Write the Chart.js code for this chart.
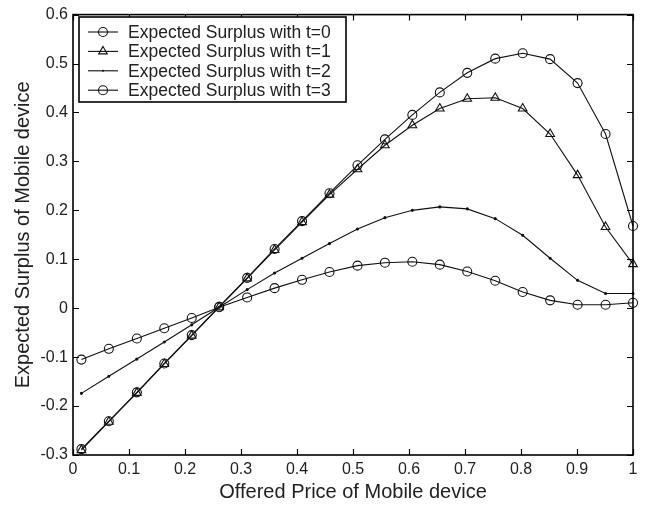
<!DOCTYPE html>
<html>
<head>
<meta charset="utf-8">
<script src="https://cdn.jsdelivr.net/npm/chart.js@4/dist/chart.umd.min.js"></script>
<style>
  html, body { margin: 0; padding: 0; background: #fff; }
  #wrap { width: 648px; height: 507px; }
</style>
</head>
<body>
<div id="wrap"><canvas id="surplus" width="648" height="507"></canvas></div>
<script>
// offered price (x) for each sample
var prices = [0.015, 0.064, 0.114, 0.163, 0.212, 0.261, 0.311, 0.360, 0.409, 0.458, 0.508,
  0.557, 0.606, 0.655, 0.704, 0.754, 0.803, 0.852, 0.901, 0.951, 1.0];

// expected surplus for each t
var surplusT0 = [-0.288, -0.231, -0.172, -0.113, -0.055, 0.003, 0.062, 0.121, 0.178, 0.235, 0.292,
  0.345, 0.395, 0.441, 0.481, 0.510, 0.521, 0.509, 0.460, 0.356, 0.168];
var surplusT1 = [-0.290, -0.232, -0.173, -0.114, -0.056, 0.002, 0.061, 0.119, 0.176, 0.232, 0.284,
  0.333, 0.374, 0.408, 0.428, 0.430, 0.408, 0.356, 0.272, 0.166, 0.090];
var surplusT2 = [-0.174, -0.139, -0.104, -0.069, -0.034, 0.002, 0.038, 0.072, 0.102, 0.132, 0.162,
  0.185, 0.200, 0.207, 0.203, 0.183, 0.149, 0.102, 0.057, 0.030, 0.030];
var surplusT3 = [-0.105, -0.083, -0.062, -0.041, -0.020, 0.002, 0.022, 0.041, 0.058, 0.074, 0.087,
  0.093, 0.095, 0.089, 0.075, 0.056, 0.033, 0.016, 0.007, 0.007, 0.011];

var seriesLabels = [
  "Expected Surplus with t=0",
  "Expected Surplus with t=1",
  "Expected Surplus with t=2",
  "Expected Surplus with t=3"
];

var xTicks = [0, 0.1, 0.2, 0.3, 0.4, 0.5, 0.6, 0.7, 0.8, 0.9, 1];
var yTicks = [-0.3, -0.2, -0.1, 0, 0.1, 0.2, 0.3, 0.4, 0.5, 0.6];

var fontName = "'Liberation Sans', Arial, sans-serif";

function toPoints(ys) {
  var pts = [];
  for (var i = 0; i < prices.length; i++) {
    pts.push({ x: prices[i], y: ys[i] });
  }
  return pts;
}

function fmt(v) {
  return String(Math.round(v * 10) / 10);
}

var seriesStyle = [
  { data: surplusT0, pointStyle: "circle", radius: 4.5 },
  { data: surplusT1, pointStyle: "triangle", radius: 5 },
  { data: surplusT2, pointStyle: "circle", radius: 1 },
  { data: surplusT3, pointStyle: "circle", radius: 4.5 }
];

var datasets = seriesStyle.map(function(s, i) {
  return {
    label: seriesLabels[i],
    data: toPoints(s.data),
    borderColor: "#111",
    borderWidth: 1.1,
    backgroundColor: "rgba(0,0,0,0)",
    pointStyle: s.pointStyle,
    pointRadius: s.radius,
    pointBorderWidth: 1.1,
    pointBorderColor: "#111",
    pointBackgroundColor: i == 2 ? "#111" : "rgba(0,0,0,0)",
    tension: 0,
    clip: false
  };
});

// box round the plot with inward ticks on all four sides
var boxPlugin = {
  id: "box",
  afterDatasetsDraw: function(chart) {
    var ctx = chart.ctx;
    var a = chart.chartArea;
    var xs = chart.scales.x, ys = chart.scales.y;
    ctx.save();
    ctx.strokeStyle = "#000";
    ctx.lineWidth = 1.2;
    ctx.beginPath();
    xTicks.forEach(function(v) {
      var px = Math.round(xs.getPixelForValue(v)) + 0.5;
      ctx.moveTo(px, a.bottom); ctx.lineTo(px, a.bottom - 6);
      ctx.moveTo(px, a.top); ctx.lineTo(px, a.top + 6);
    });
    yTicks.forEach(function(v) {
      var py = Math.round(ys.getPixelForValue(v)) + 0.5;
      ctx.moveTo(a.left, py); ctx.lineTo(a.left + 6, py);
      ctx.moveTo(a.right, py); ctx.lineTo(a.right - 6, py);
    });
    ctx.stroke();
    ctx.lineWidth = 1.6;
    ctx.strokeRect(a.left, a.top, a.right - a.left, a.bottom - a.top);
    ctx.restore();
  }
};

// legend in the upper left corner, inside the plot
var legendPlugin = {
  id: "innerLegend",
  afterDraw: function(chart) {
    var ctx = chart.ctx;
    var bx = 79, by = 17, bw = 267, bh = 85;
    ctx.save();
    ctx.fillStyle = "#fff";
    ctx.fillRect(bx, by, bw, bh);
    ctx.strokeStyle = "#000";
    ctx.lineWidth = 1.6;
    ctx.strokeRect(bx, by, bw, bh);
    ctx.font = "17.5px " + fontName;
    ctx.textBaseline = "middle";
    for (var i = 0; i < seriesLabels.length; i++) {
      var y = 32 + i * 19.4;
      ctx.strokeStyle = "#111";
      ctx.lineWidth = 1.1;
      ctx.beginPath();
      ctx.moveTo(88, y); ctx.lineTo(118, y);
      ctx.stroke();
      var st = seriesStyle[i];
      ctx.beginPath();
      if (st.pointStyle == "triangle") {
        var r = st.radius;
        ctx.moveTo(103, y - r);
        ctx.lineTo(103 + r * 0.866, y + r * 0.5);
        ctx.lineTo(103 - r * 0.866, y + r * 0.5);
        ctx.closePath();
        ctx.stroke();
      } else {
        ctx.arc(103, y, st.radius, 0, Math.PI * 2);
        if (i == 2) { ctx.fillStyle = "#111"; ctx.fill(); }
        else ctx.stroke();
      }
      ctx.fillStyle = "#222";
      ctx.fillText(seriesLabels[i], 128, y + 1);
    }
    ctx.restore();
  }
};

var ctx1 = document.getElementById("surplus").getContext("2d");

var chart1 = new Chart(ctx1, {
  type: "line",
  data: { datasets: datasets },
  plugins: [boxPlugin, legendPlugin],
  options: {
    responsive: false,
    animation: false,
    layout: { padding: { left: 0, right: 15, top: 12, bottom: 0 } },
    plugins: {
      legend: { display: false },
      tooltip: { enabled: false }
    },
    scales: {
      x: {
        type: "linear",
        min: 0,
        max: 1,
        afterFit: function(scale) { scale.height = 52; },
        afterBuildTicks: function(scale) {
          scale.ticks = xTicks.map(function(v) { return { value: v }; });
        },
        grid: { display: false, drawTicks: false },
        border: { display: false },
        ticks: {
          padding: 5,
          color: "#222",
          font: { family: fontName, size: 16 },
          maxRotation: 0,
          callback: function(v) { return fmt(v); }
        },
        title: {
          display: true,
          text: "Offered Price of Mobile device",
          color: "#222",
          font: { family: fontName, size: 20 },
          padding: { top: 0, bottom: 3 }
        }
      },
      y: {
        type: "linear",
        min: -0.3,
        max: 0.6,
        afterFit: function(scale) { scale.width = 73; },
        afterBuildTicks: function(scale) {
          scale.ticks = yTicks.map(function(v) { return { value: v }; });
        },
        grid: { display: false, drawTicks: false },
        border: { display: false },
        ticks: {
          padding: 5,
          color: "#222",
          font: { family: fontName, size: 16 },
          callback: function(v) { return fmt(v); }
        },
        title: {
          display: true,
          text: "Expected Surplus of Mobile device",
          color: "#222",
          font: { family: fontName, size: 20 },
          padding: { top: 11, bottom: 0 }
        }
      }
    }
  }
});
</script>
</body>
</html>
